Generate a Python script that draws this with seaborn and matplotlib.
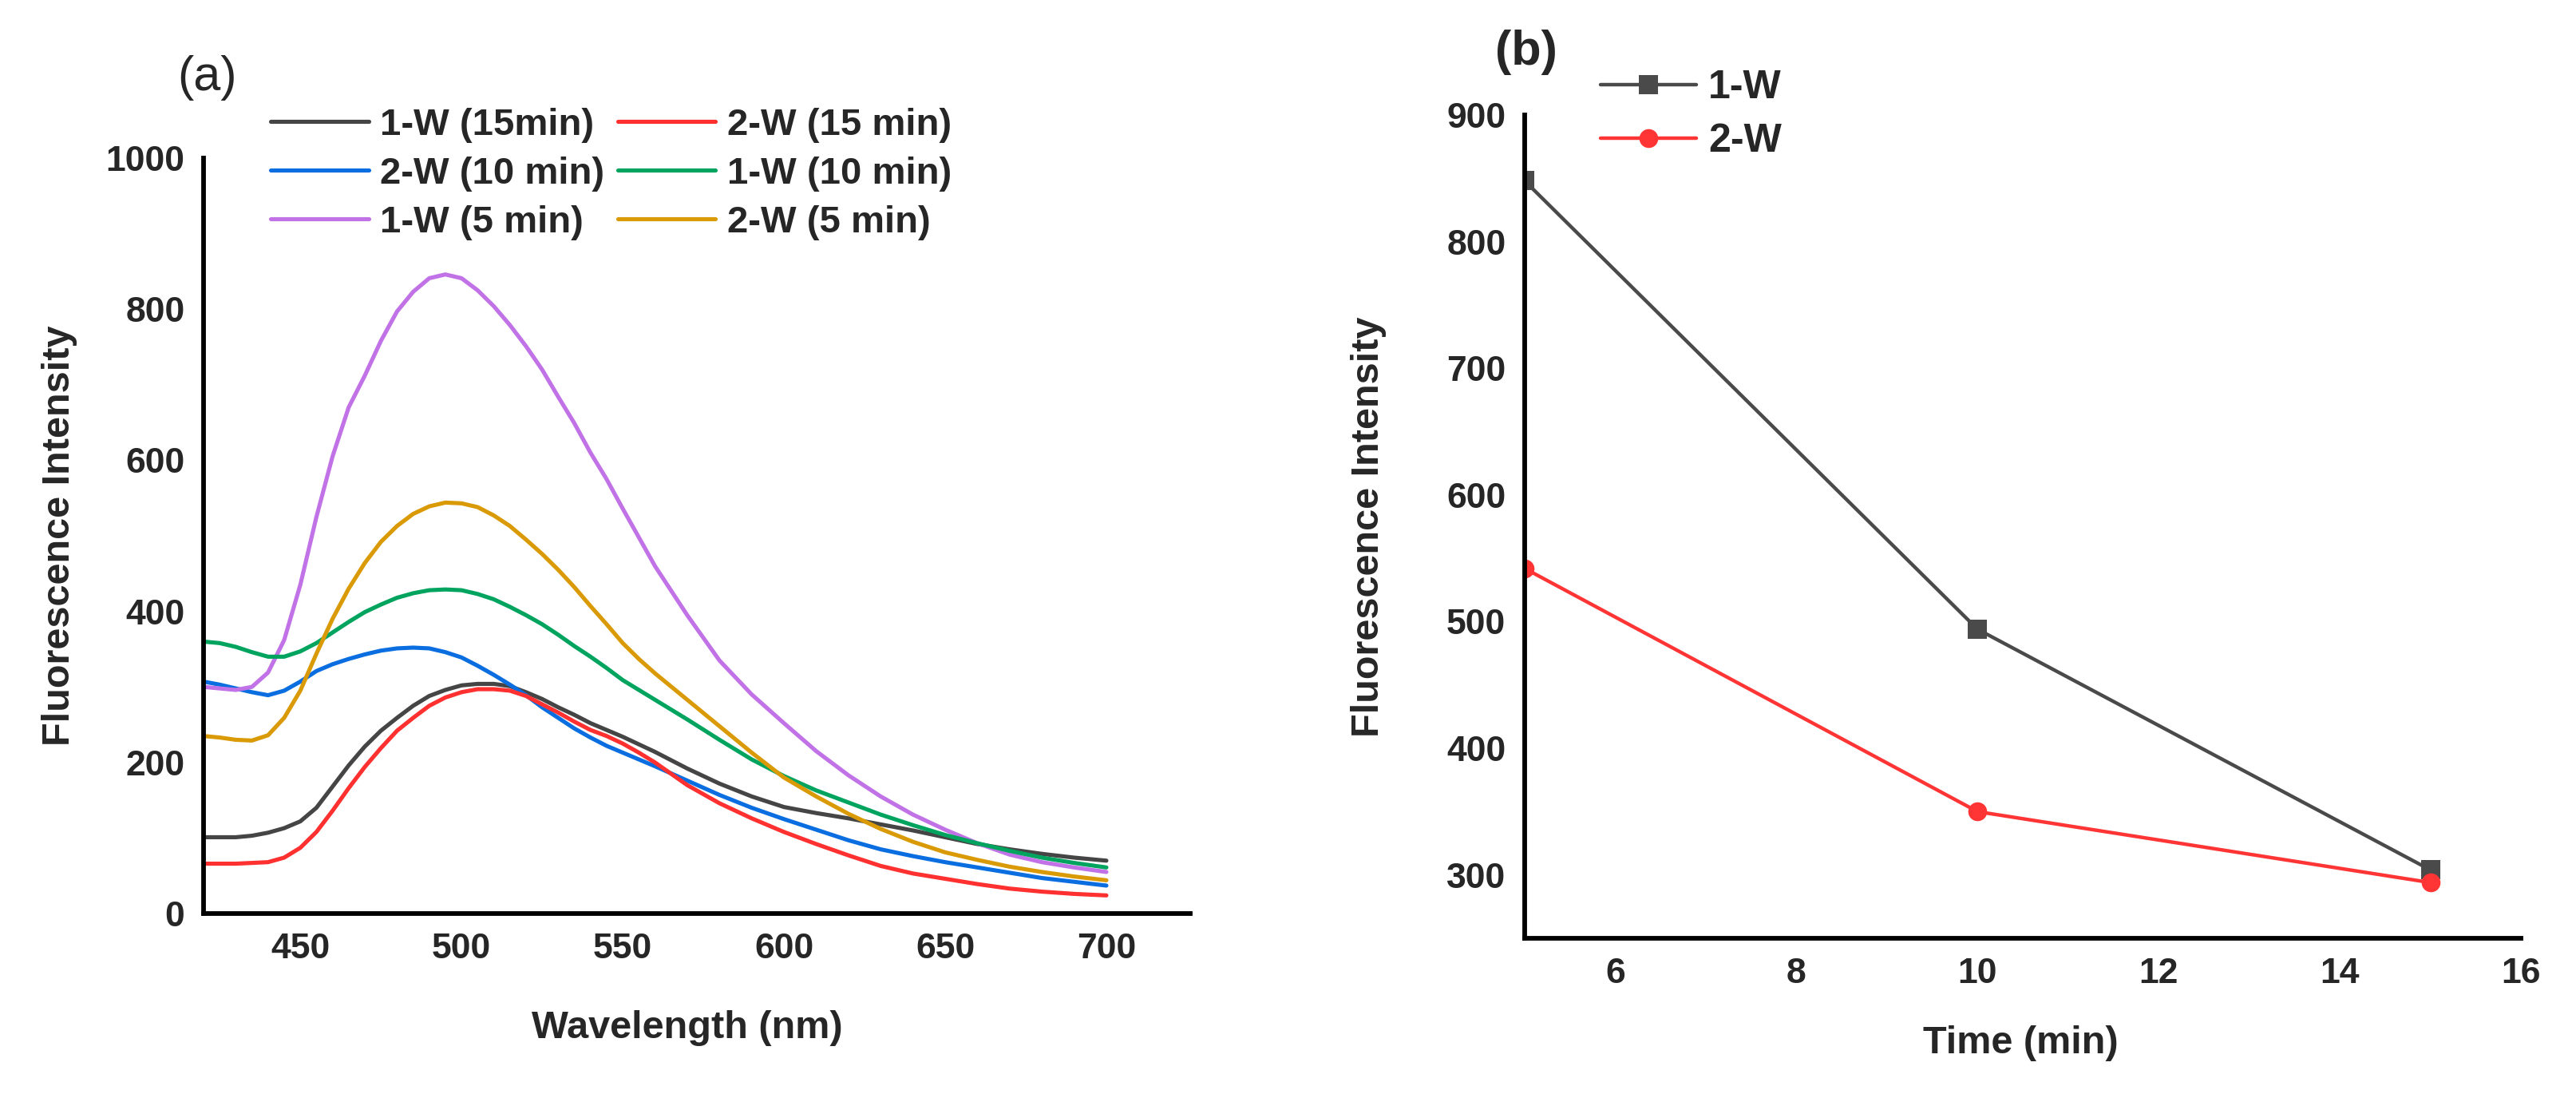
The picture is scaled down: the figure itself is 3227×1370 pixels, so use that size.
import matplotlib
matplotlib.use('Agg')
import matplotlib.pyplot as plt
import seaborn as sns
import pandas as pd
from matplotlib.lines import Line2D

# --- data ---
wavelength = [420, 425, 430, 435, 440, 445, 450, 455, 460, 465, 470, 475, 480, 485,
              490, 495, 500, 505, 510, 515, 520, 525, 530, 535, 540, 545, 550, 555,
              560, 570, 580, 590, 600, 610, 620, 630, 640, 650, 660, 670, 680, 690, 700]

w1_15 = [101, 101, 101, 103, 107, 113, 122, 140, 168, 196, 221, 242, 259, 275,
         288, 296, 302, 304, 304, 301, 293, 284, 273, 263, 252, 243, 234, 224,
         214, 192, 172, 155, 141, 133, 126, 118, 110, 101, 92, 85, 79, 74, 70]
w2_15 = [66, 66, 66, 67, 68, 74, 87, 108, 136, 166, 194, 219, 242, 259,
         275, 286, 293, 297, 297, 295, 288, 277, 266, 254, 243, 235, 225, 213,
         200, 170, 146, 126, 108, 92, 77, 63, 53, 46, 39, 33, 29, 26, 24]
w2_10 = [307, 303, 298, 293, 289, 295, 307, 321, 330, 337, 343, 348, 351, 352,
         351, 346, 339, 328, 316, 303, 289, 273, 259, 245, 233, 222, 213, 204,
         195, 176, 157, 140, 125, 111, 97, 85, 76, 68, 61, 54, 47, 42, 37]
w1_10 = [360, 358, 353, 346, 340, 340, 347, 358, 372, 386, 399, 409, 418, 424,
         428, 429, 428, 423, 416, 406, 395, 383, 369, 354, 340, 325, 309, 296,
         283, 257, 230, 204, 182, 163, 147, 131, 117, 104, 93, 83, 74, 67, 61]
w1_5 = [300, 298, 296, 300, 319, 362, 435, 525, 605, 670, 712, 758, 797, 823,
        841, 846, 841, 825, 804, 779, 751, 720, 684, 649, 610, 575, 536, 498,
        460, 395, 335, 290, 252, 215, 183, 155, 131, 111, 93, 78, 68, 61, 55]
w2_5 = [235, 233, 230, 229, 236, 259, 295, 344, 390, 430, 464, 492, 513, 529,
        539, 544, 543, 538, 527, 513, 495, 476, 455, 432, 407, 383, 358, 337,
        318, 283, 248, 213, 180, 155, 132, 112, 95, 81, 71, 62, 55, 49, 44]

series_labels = ['1-W (15min)', '2-W (10 min)', '1-W (5 min)',
                 '2-W (15 min)', '1-W (10 min)', '2-W (5 min)']
series_values = [w1_15, w2_10, w1_5, w2_15, w1_10, w2_5]
series_colors = ['#454545', '#0a6ee0', '#c172e6', '#ff3030', '#00a45e', '#d99a05']

time_min = [5, 10, 15]
one_w = [848, 494, 304]
two_w = [542, 350, 294]

# --- style ---
sns.set_theme(style='white')
plt.rcParams['font.family'] = ['Liberation Sans', 'DejaVu Sans']
plt.rcParams['font.weight'] = 'bold'
plt.rcParams['axes.labelweight'] = 'bold'

W, H = 3227, 1370
fig = plt.figure(figsize=(W / 100, H / 100), dpi=100)

def px_axes(x0, y0, x1, y1):
    return fig.add_axes([x0 / W, 1 - y1 / H, (x1 - x0) / W, (y1 - y0) / H])

ax_a = px_axes(255, 198, 1491, 1144)
ax_b = px_axes(1910, 144, 3158, 1175)

# --- panel (a) ---
rows = []
for lab, vals in zip(series_labels, series_values):
    for wl, v in zip(wavelength, vals):
        rows.append({'Wavelength': wl, 'Intensity': v, 'Sample': lab})
df_a = pd.DataFrame(rows)
palette_a = dict(zip(series_labels, series_colors))

sns.lineplot(data=df_a, x='Wavelength', y='Intensity', hue='Sample',
             hue_order=series_labels, palette=palette_a, linewidth=3.7,
             legend=False, ax=ax_a)
for ln in ax_a.lines:
    ln.set_solid_joinstyle('round')

ax_a.set_xlim(420, 726)
ax_a.set_ylim(0, 1000)
ax_a.set_xticks([450, 500, 550, 600, 650, 700])
ax_a.set_yticks([0, 200, 400, 600, 800, 1000])

handles_a = [Line2D([], [], color=c, lw=3.7) for c in series_colors]
ax_a.legend(handles_a, series_labels, ncol=2, frameon=False,
            loc='upper left', bbox_to_anchor=(339 / W, 1 - 135 / H),
            bbox_transform=fig.transFigure, borderpad=0, borderaxespad=0,
            handlelength=2.6, handletextpad=0.3, labelspacing=0.36,
            columnspacing=0.35, prop={'weight': 'bold', 'size': 34})

ax_a.set_xlabel('Wavelength (nm)', fontsize=35, fontweight='bold')
ax_a.set_ylabel('Fluorescence Intensity', fontsize=35, fontweight='bold')
ax_a.xaxis.set_label_coords(0.49, -0.128)
ax_a.yaxis.set_label_coords(-0.128, 0.5)

# --- panel (b) ---
df_b = pd.DataFrame({
    'Time': time_min * 2,
    'Intensity': one_w + two_w,
    'Sample': ['1-W'] * len(time_min) + ['2-W'] * len(time_min),
})
sns.lineplot(data=df_b, x='Time', y='Intensity', hue='Sample', style='Sample',
             palette={'1-W': '#4a4a4a', '2-W': '#ff3535'},
             markers={'1-W': 's', '2-W': 'o'}, dashes=False,
             markersize=17, markeredgewidth=0, linewidth=3.2,
             legend=False, ax=ax_b)

ax_b.set_xlim(5, 16)
ax_b.set_ylim(250, 900)
ax_b.set_xticks([6, 8, 10, 12, 14, 16])
ax_b.set_yticks([300, 400, 500, 600, 700, 800, 900])

handles_b = [Line2D([], [], color='#4a4a4a', lw=3.2, marker='s', markersize=17, markeredgewidth=0),
             Line2D([], [], color='#ff3535', lw=3.2, marker='o', markersize=17, markeredgewidth=0)]
ax_b.legend(handles_b, ['1-W', '2-W'], frameon=False, loc='upper left',
            bbox_to_anchor=(2005 / W, 1 - 87 / H), bbox_transform=fig.transFigure,
            borderpad=0, borderaxespad=0, handlelength=2.4, handletextpad=0.3,
            labelspacing=0.42, prop={'weight': 'bold', 'size': 36})

ax_b.set_xlabel('Time (min)', fontsize=35, fontweight='bold')
ax_b.set_ylabel('Fluorescence Intensity', fontsize=35, fontweight='bold')
ax_b.xaxis.set_label_coords(0.498, -0.106)
ax_b.yaxis.set_label_coords(-0.139, 0.5)

for ax in (ax_a, ax_b):
    sns.despine(ax=ax)
    for s in ('left', 'bottom'):
        ax.spines[s].set_linewidth(4.2)
        ax.spines[s].set_color('black')
    ax.tick_params(axis='both', length=0, pad=17, labelsize=32)
    for t in ax.get_xticklabels() + ax.get_yticklabels():
        t.set_fontweight('bold')
    ax.set_facecolor('white')

fig.text(260 / W, 1 - 98 / H, '(a)', fontsize=44, fontweight='normal',
         ha='center', va='center')
fig.text(1912 / W, 1 - 66 / H, '(b)', fontsize=44, fontweight='bold',
         ha='center', va='center')

fig.savefig('out.png', dpi=100, facecolor='white')
